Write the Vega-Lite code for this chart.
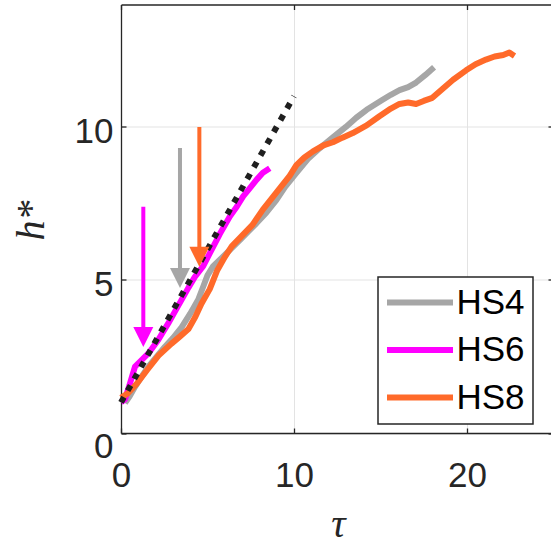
{
  "$schema": "https://vega.github.io/schema/vega-lite/v6.json",
  "width": 430,
  "height": 428.5,
  "autosize": {"type": "none"},
  "padding": {"left": 121, "top": 4.5, "right": 0, "bottom": 109.5},
  "background": "white",
  "config": {
    "view": {"stroke": null},
    "font": "Liberation Sans",
    "axis": {
      "domainColor": "#262626",
      "domainWidth": 1.3,
      "tickColor": "#262626",
      "tickWidth": 1.3,
      "gridColor": "#e3e3e3",
      "gridWidth": 1,
      "labelFont": "Liberation Sans",
      "labelFontSize": 35,
      "labelColor": "#262626",
      "labelFlush": false,
      "labelOverlap": false,
      "titleFont": "Liberation Serif",
      "titleFontStyle": "italic",
      "titleFontWeight": "normal",
      "titleFontSize": 40,
      "titleColor": "#262626"
    }
  },
  "datasets": {
    "curves": [
      {"series": "HS4", "tau": 0.23, "h": 0.98},
      {"series": "HS4", "tau": 0.5, "h": 1.2},
      {"series": "HS4", "tau": 0.81, "h": 1.51},
      {"series": "HS4", "tau": 1.2, "h": 1.85},
      {"series": "HS4", "tau": 1.58, "h": 2.17},
      {"series": "HS4", "tau": 2.0, "h": 2.45},
      {"series": "HS4", "tau": 2.54, "h": 2.82},
      {"series": "HS4", "tau": 3.0, "h": 3.1},
      {"series": "HS4", "tau": 3.5, "h": 3.45},
      {"series": "HS4", "tau": 4.0, "h": 3.9},
      {"series": "HS4", "tau": 4.46, "h": 4.35},
      {"series": "HS4", "tau": 4.75, "h": 4.78},
      {"series": "HS4", "tau": 5.0, "h": 5.15},
      {"series": "HS4", "tau": 5.33, "h": 5.45},
      {"series": "HS4", "tau": 5.9, "h": 5.76},
      {"series": "HS4", "tau": 6.4, "h": 6.04},
      {"series": "HS4", "tau": 6.87, "h": 6.3},
      {"series": "HS4", "tau": 7.35, "h": 6.58},
      {"series": "HS4", "tau": 7.83, "h": 6.85},
      {"series": "HS4", "tau": 8.4, "h": 7.2},
      {"series": "HS4", "tau": 8.98, "h": 7.61},
      {"series": "HS4", "tau": 9.5, "h": 8.05},
      {"series": "HS4", "tau": 10.14, "h": 8.5},
      {"series": "HS4", "tau": 10.8, "h": 8.95},
      {"series": "HS4", "tau": 11.48, "h": 9.3},
      {"series": "HS4", "tau": 12.25, "h": 9.66},
      {"series": "HS4", "tau": 13.0, "h": 10.0},
      {"series": "HS4", "tau": 13.6, "h": 10.3},
      {"series": "HS4", "tau": 14.2, "h": 10.56},
      {"series": "HS4", "tau": 15.1, "h": 10.88},
      {"series": "HS4", "tau": 15.6, "h": 11.05},
      {"series": "HS4", "tau": 16.1, "h": 11.2},
      {"series": "HS4", "tau": 16.6, "h": 11.3},
      {"series": "HS4", "tau": 17.06, "h": 11.45},
      {"series": "HS4", "tau": 17.6, "h": 11.7},
      {"series": "HS4", "tau": 18.1, "h": 11.95},
      {"series": "HS6", "tau": 0.0, "h": 1.0},
      {"series": "HS6", "tau": 0.23, "h": 1.1},
      {"series": "HS6", "tau": 0.52, "h": 1.62},
      {"series": "HS6", "tau": 0.81, "h": 2.17},
      {"series": "HS6", "tau": 1.19, "h": 2.38},
      {"series": "HS6", "tau": 1.58, "h": 2.6},
      {"series": "HS6", "tau": 2.15, "h": 3.04},
      {"series": "HS6", "tau": 2.73, "h": 3.58},
      {"series": "HS6", "tau": 3.1, "h": 3.95},
      {"series": "HS6", "tau": 3.5, "h": 4.35},
      {"series": "HS6", "tau": 3.9, "h": 4.75},
      {"series": "HS6", "tau": 4.27, "h": 5.1},
      {"series": "HS6", "tau": 4.75, "h": 5.45},
      {"series": "HS6", "tau": 5.13, "h": 5.87},
      {"series": "HS6", "tau": 5.71, "h": 6.5},
      {"series": "HS6", "tau": 6.29, "h": 7.07},
      {"series": "HS6", "tau": 6.7, "h": 7.4},
      {"series": "HS6", "tau": 7.06, "h": 7.73},
      {"series": "HS6", "tau": 7.45, "h": 8.0},
      {"series": "HS6", "tau": 7.83, "h": 8.27},
      {"series": "HS6", "tau": 8.2, "h": 8.5},
      {"series": "HS6", "tau": 8.6, "h": 8.65},
      {"series": "HS8", "tau": 0.0, "h": 1.15},
      {"series": "HS8", "tau": 0.4, "h": 1.3},
      {"series": "HS8", "tau": 0.9, "h": 1.6},
      {"series": "HS8", "tau": 1.5, "h": 2.05},
      {"series": "HS8", "tau": 2.2, "h": 2.55},
      {"series": "HS8", "tau": 2.92, "h": 2.92},
      {"series": "HS8", "tau": 3.4, "h": 3.15},
      {"series": "HS8", "tau": 3.9, "h": 3.4},
      {"series": "HS8", "tau": 4.3, "h": 3.8},
      {"series": "HS8", "tau": 4.65, "h": 4.22},
      {"series": "HS8", "tau": 5.13, "h": 4.7},
      {"series": "HS8", "tau": 5.55, "h": 5.3},
      {"series": "HS8", "tau": 6.0, "h": 5.75},
      {"series": "HS8", "tau": 6.4, "h": 6.1},
      {"series": "HS8", "tau": 7.0, "h": 6.45},
      {"series": "HS8", "tau": 7.6, "h": 6.8},
      {"series": "HS8", "tau": 8.2, "h": 7.3},
      {"series": "HS8", "tau": 8.98, "h": 7.85},
      {"series": "HS8", "tau": 9.75, "h": 8.4},
      {"series": "HS8", "tau": 10.14, "h": 8.75},
      {"series": "HS8", "tau": 10.6, "h": 9.0},
      {"series": "HS8", "tau": 11.1, "h": 9.2},
      {"series": "HS8", "tau": 11.7, "h": 9.4},
      {"series": "HS8", "tau": 12.25, "h": 9.5},
      {"series": "HS8", "tau": 12.8, "h": 9.65},
      {"series": "HS8", "tau": 13.4, "h": 9.8},
      {"series": "HS8", "tau": 14.2, "h": 10.05},
      {"series": "HS8", "tau": 14.94, "h": 10.35},
      {"series": "HS8", "tau": 15.6, "h": 10.6},
      {"series": "HS8", "tau": 16.1, "h": 10.75},
      {"series": "HS8", "tau": 16.6, "h": 10.8},
      {"series": "HS8", "tau": 17.06, "h": 10.75},
      {"series": "HS8", "tau": 17.5, "h": 10.85},
      {"series": "HS8", "tau": 18.0, "h": 10.95},
      {"series": "HS8", "tau": 18.6, "h": 11.25},
      {"series": "HS8", "tau": 19.2, "h": 11.54},
      {"series": "HS8", "tau": 19.95, "h": 11.85},
      {"series": "HS8", "tau": 20.5, "h": 12.05},
      {"series": "HS8", "tau": 21.1, "h": 12.2},
      {"series": "HS8", "tau": 21.6, "h": 12.3},
      {"series": "HS8", "tau": 22.1, "h": 12.35},
      {"series": "HS8", "tau": 22.45, "h": 12.43},
      {"series": "HS8", "tau": 22.75, "h": 12.32}
    ],
    "guide": [
      {"tau": 0, "h": 1},
      {"tau": 10, "h": 11}
    ],
    "arrows": [
      {"series": "HS6", "tau": 1.29, "top": 7.39, "tip": 2.81},
      {"series": "HS4", "tau": 3.41, "top": 9.31, "tip": 4.74},
      {"series": "HS8", "tau": 4.53, "top": 10.0, "tip": 5.43}
    ]
  },
  "resolve": {
    "scale": {"color": "independent"},
    "axis": {"x": "independent", "y": "independent"}
  },
  "layer": [
    {
      "data": {"name": "curves"},
      "mark": {"type": "line", "strokeWidth": 6, "strokeJoin": "round", "strokeCap": "butt"},
      "encoding": {
        "x": {
          "field": "tau", "type": "quantitative",
          "scale": {"domain": [0, 24.86], "nice": false, "zero": false},
          "axis": {
            "values": [0, 10, 20], "grid": true, "tickSize": -5,
            "labelBaseline": "alphabetic", "labelPadding": 58,
            "title": "τ", "titleX": 217, "titleY": 103,
            "titleBaseline": "alphabetic", "titleAlign": "center"
          }
        },
        "y": {
          "field": "h", "type": "quantitative",
          "scale": {"domain": [0, 14], "nice": false, "zero": false},
          "axis": {
            "values": [0, 5, 10], "grid": true, "tickSize": -5,
            "labelAlign": "right", "labelBaseline": "middle",
            "labelPadding": 13,
            "labelOffset": {"condition": {"test": "datum.value === 0", "value": 13}, "value": 5},
            "title": "h*", "titleAngle": -90, "titleX": -78, "titleY": 215.5,
            "titleBaseline": "alphabetic", "titleAlign": "center"
          }
        },
        "color": {
          "field": "series", "type": "nominal",
          "scale": {"domain": ["HS4", "HS6", "HS8"], "range": ["#a6a6a6", "#ff00ff", "#ff6a2a"]},
          "legend": {
            "title": null, "orient": "none", "legendX": 257, "legendY": 272.5,
            "symbolType": "M-3,0H3", "symbolSize": 484, "symbolStrokeWidth": 6,
            "symbolOffset": 16.5, "symbolFillColor": "transparent",
            "labelFont": "Liberation Sans", "labelFontSize": 35, "labelColor": "#000000",
            "labelOffset": 19, "padding": 8, "rowPadding": 11.5,
            "strokeColor": "#262626", "fillColor": "#ffffff",
            "encode": {"legend": {"update": {"strokeWidth": {"value": 1.5}}}}
          }
        }
      }
    },
    {
      "data": {"name": "guide"},
      "mark": {"type": "line", "color": "#1f1f1f", "strokeWidth": 6, "strokeDash": [6, 7.5], "strokeCap": "butt"},
      "encoding": {
        "x": {
          "field": "tau", "type": "quantitative",
          "scale": {"domain": [0, 24.86], "nice": false, "zero": false},
          "axis": {"orient": "top", "values": [0, 10, 20], "labels": false, "grid": false, "tickSize": -5, "title": null}
        },
        "y": {
          "field": "h", "type": "quantitative",
          "scale": {"domain": [0, 14], "nice": false, "zero": false},
          "axis": {"orient": "right", "values": [0, 5, 10], "labels": false, "grid": false, "domain": false, "tickSize": -3, "title": null}
        }
      }
    },
    {
      "data": {"name": "arrows"},
      "mark": {"type": "rule", "strokeWidth": 4, "strokeCap": "butt", "y2Offset": -10},
      "encoding": {
        "x": {"field": "tau", "type": "quantitative", "axis": null},
        "y": {"field": "top", "type": "quantitative", "axis": null},
        "y2": {"field": "tip"},
        "color": {
          "field": "series", "type": "nominal",
          "scale": {"domain": ["HS4", "HS6", "HS8"], "range": ["#a6a6a6", "#ff00ff", "#ff6a2a"]},
          "legend": null
        }
      }
    },
    {
      "data": {"name": "arrows"},
      "mark": {"type": "point", "shape": "M-1,-1L1,-1L0,1Z", "size": 400, "filled": true, "opacity": 1, "yOffset": -10},
      "encoding": {
        "x": {"field": "tau", "type": "quantitative", "axis": null},
        "y": {"field": "tip", "type": "quantitative", "axis": null},
        "color": {
          "field": "series", "type": "nominal",
          "scale": {"domain": ["HS4", "HS6", "HS8"], "range": ["#a6a6a6", "#ff00ff", "#ff6a2a"]},
          "legend": null
        }
      }
    }
  ]
}
